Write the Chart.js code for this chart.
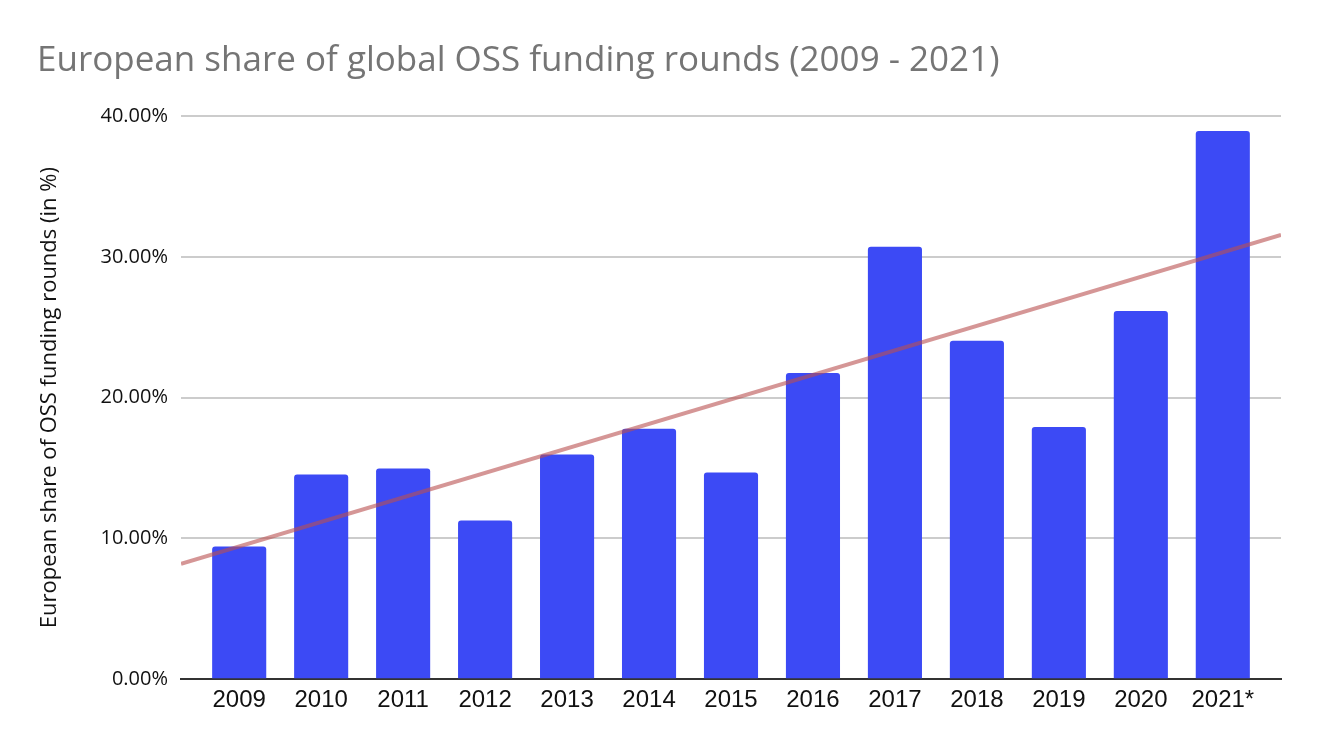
<!DOCTYPE html>
<html>
<head>
<meta charset="utf-8">
<script src="https://cdn.jsdelivr.net/npm/chart.js@4"></script>
<style>
  html, body { margin: 0; padding: 0; background: #fff; }
  #wrap { width: 1318px; height: 752px; }
</style>
</head>
<body>
<div id="wrap"><canvas id="chart" width="1318" height="752"></canvas></div>
<script>
const years = ["2009", "2010", "2011", "2012", "2013", "2014", "2015", "2016", "2017", "2018", "2019", "2020", "2021*"];
const shares = [9.43, 14.54, 14.96, 11.28, 15.96, 17.78, 14.68, 21.75, 30.71, 24.04, 17.92, 26.15, 38.94];
// trendline end points (left / right edge of the plot)
const trendX = [-0.71, 12.71];
const trendY = [8.2, 31.56];
const yTicks = [0, 10, 20, 30, 40];

// bars sit on a numeric x axis (index of the year) so the plot can run a bit past the first and last bar
const barPoints = shares.map((v, i) => ({ x: i, y: v }));
const trendPoints = trendX.map((x, i) => ({ x: x, y: trendY[i] }));

new Chart("chart", {
  type: "bar",
  data: {
    datasets: [{
      data: barPoints,
      backgroundColor: "#3c4af5",
      grouped: false,
      categoryPercentage: 1,
      barPercentage: 0.66,
      borderRadius: { topLeft: 3, topRight: 3 },
      borderSkipped: "bottom",
      order: 1
    }, {
      type: "line",
      data: trendPoints,
      borderColor: "rgba(185, 80, 80, 0.6)",
      borderWidth: 4,
      pointRadius: 0,
      fill: false,
      order: 0
    }]
  },
  options: {
    responsive: false,
    animation: false,
    layout: { padding: { left: 37, right: 37, top: 0, bottom: 30 } },
    plugins: {
      legend: { display: false },
      tooltip: { enabled: false },
      title: {
        display: true,
        text: "European share of global OSS funding rounds (2009 - 2021)",
        align: "start",
        color: "#757575",
        font: { family: "Open Sans", size: 35, weight: "normal" },
        padding: { top: 40, bottom: 34 }
      }
    },
    scales: {
      x: {
        type: "linear",
        min: trendX[0],
        max: trendX[1],
        offset: false,
        afterBuildTicks: (s) => { s.ticks = years.map((y, i) => ({ value: i })); },
        grid: { display: false, drawTicks: false, offset: false },
        border: { color: "#333", width: 2 },
        ticks: {
          color: "#111",
          font: { family: "Liberation Sans", size: 24 },
          padding: 7,
          autoSkip: false,
          maxRotation: 0,
          callback: (v) => years[v]
        }
      },
      y: {
        min: 0,
        max: 40,
        afterBuildTicks: (s) => { s.ticks = yTicks.map(v => ({ value: v })); },
        afterFit: (s) => { s.width = 144; },
        grid: { color: "#cccccc", lineWidth: 2, drawTicks: false },
        border: { display: false },
        ticks: {
          color: "#111",
          padding: 13,
          font: { family: "Open Sans", size: 20 },
          callback: (v) => v.toFixed(2) + "%"
        },
        title: {
          display: true,
          text: "European share of OSS funding rounds (in %)",
          color: "#111",
          font: { family: "Open Sans", size: 22 },
          padding: { top: 0, bottom: 8 }
        }
      }
    }
  }
});
</script>
</body>
</html>
